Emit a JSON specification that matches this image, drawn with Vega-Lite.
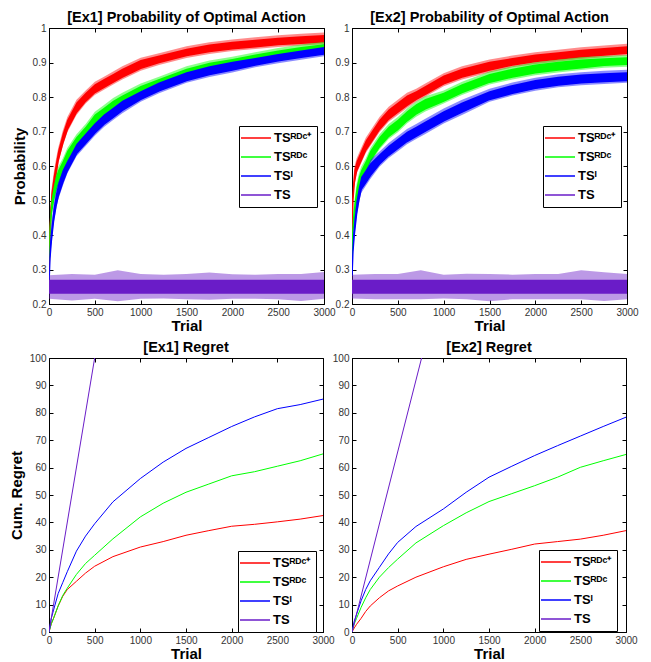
{
"$schema": "https://vega.github.io/schema/vega-lite/v6.json",
"background": "white",
"padding": {"left": 8, "top": 9, "right": 0, "bottom": 0},
"datasets": {
"p1": [
{"t":0,"s":"RDC+","lo2":0.272,"lo":0.282,"hi":0.318,"hi2":0.328},
{"t":10,"s":"RDC+","lo2":0.392,"lo":0.402,"hi":0.438,"hi2":0.448},
{"t":25,"s":"RDC+","lo2":0.472,"lo":0.482,"hi":0.518,"hi2":0.528},
{"t":50,"s":"RDC+","lo2":0.522,"lo":0.532,"hi":0.568,"hi2":0.578},
{"t":75,"s":"RDC+","lo2":0.562,"lo":0.572,"hi":0.608,"hi2":0.618},
{"t":100,"s":"RDC+","lo2":0.608,"lo":0.616,"hi":0.644,"hi2":0.652},
{"t":150,"s":"RDC+","lo2":0.658,"lo":0.666,"hi":0.694,"hi2":0.702},
{"t":200,"s":"RDC+","lo2":0.698,"lo":0.706,"hi":0.734,"hi2":0.742},
{"t":300,"s":"RDC+","lo2":0.748,"lo":0.756,"hi":0.784,"hi2":0.792},
{"t":400,"s":"RDC+","lo2":0.781,"lo":0.788,"hi":0.812,"hi2":0.819},
{"t":500,"s":"RDC+","lo2":0.806,"lo":0.813,"hi":0.837,"hi2":0.844},
{"t":600,"s":"RDC+","lo2":0.821,"lo":0.828,"hi":0.852,"hi2":0.859},
{"t":700,"s":"RDC+","lo2":0.836,"lo":0.843,"hi":0.867,"hi2":0.874},
{"t":800,"s":"RDC+","lo2":0.851,"lo":0.858,"hi":0.882,"hi2":0.889},
{"t":1000,"s":"RDC+","lo2":0.876,"lo":0.883,"hi":0.907,"hi2":0.914},
{"t":1200,"s":"RDC+","lo2":0.893,"lo":0.900,"hi":0.920,"hi2":0.927},
{"t":1500,"s":"RDC+","lo2":0.913,"lo":0.920,"hi":0.940,"hi2":0.947},
{"t":1750,"s":"RDC+","lo2":0.925,"lo":0.932,"hi":0.952,"hi2":0.959},
{"t":2000,"s":"RDC+","lo2":0.933,"lo":0.940,"hi":0.960,"hi2":0.967},
{"t":2250,"s":"RDC+","lo2":0.939,"lo":0.946,"hi":0.966,"hi2":0.973},
{"t":2500,"s":"RDC+","lo2":0.945,"lo":0.952,"hi":0.972,"hi2":0.979},
{"t":2750,"s":"RDC+","lo2":0.949,"lo":0.956,"hi":0.976,"hi2":0.983},
{"t":3000,"s":"RDC+","lo2":0.953,"lo":0.960,"hi":0.980,"hi2":0.987},
{"t":0,"s":"RDC","lo2":0.302,"lo":0.312,"hi":0.348,"hi2":0.358},
{"t":10,"s":"RDC","lo2":0.392,"lo":0.402,"hi":0.438,"hi2":0.448},
{"t":25,"s":"RDC","lo2":0.452,"lo":0.462,"hi":0.498,"hi2":0.508},
{"t":50,"s":"RDC","lo2":0.492,"lo":0.502,"hi":0.538,"hi2":0.548},
{"t":75,"s":"RDC","lo2":0.522,"lo":0.532,"hi":0.568,"hi2":0.578},
{"t":100,"s":"RDC","lo2":0.542,"lo":0.552,"hi":0.588,"hi2":0.598},
{"t":150,"s":"RDC","lo2":0.578,"lo":0.586,"hi":0.614,"hi2":0.622},
{"t":200,"s":"RDC","lo2":0.608,"lo":0.616,"hi":0.644,"hi2":0.652},
{"t":300,"s":"RDC","lo2":0.648,"lo":0.656,"hi":0.684,"hi2":0.692},
{"t":400,"s":"RDC","lo2":0.678,"lo":0.686,"hi":0.714,"hi2":0.722},
{"t":500,"s":"RDC","lo2":0.713,"lo":0.721,"hi":0.749,"hi2":0.757},
{"t":600,"s":"RDC","lo2":0.733,"lo":0.741,"hi":0.769,"hi2":0.777},
{"t":700,"s":"RDC","lo2":0.753,"lo":0.761,"hi":0.789,"hi2":0.797},
{"t":800,"s":"RDC","lo2":0.768,"lo":0.776,"hi":0.804,"hi2":0.812},
{"t":1000,"s":"RDC","lo2":0.801,"lo":0.808,"hi":0.832,"hi2":0.839},
{"t":1200,"s":"RDC","lo2":0.821,"lo":0.828,"hi":0.852,"hi2":0.859},
{"t":1500,"s":"RDC","lo2":0.851,"lo":0.858,"hi":0.882,"hi2":0.889},
{"t":1750,"s":"RDC","lo2":0.868,"lo":0.875,"hi":0.899,"hi2":0.906},
{"t":2000,"s":"RDC","lo2":0.883,"lo":0.890,"hi":0.910,"hi2":0.917},
{"t":2250,"s":"RDC","lo2":0.896,"lo":0.903,"hi":0.923,"hi2":0.930},
{"t":2500,"s":"RDC","lo2":0.908,"lo":0.915,"hi":0.935,"hi2":0.942},
{"t":2750,"s":"RDC","lo2":0.918,"lo":0.925,"hi":0.945,"hi2":0.952},
{"t":3000,"s":"RDC","lo2":0.926,"lo":0.933,"hi":0.953,"hi2":0.960},
{"t":0,"s":"I","lo2":0.252,"lo":0.262,"hi":0.298,"hi2":0.308},
{"t":10,"s":"I","lo2":0.322,"lo":0.332,"hi":0.368,"hi2":0.378},
{"t":25,"s":"I","lo2":0.372,"lo":0.382,"hi":0.418,"hi2":0.428},
{"t":50,"s":"I","lo2":0.432,"lo":0.442,"hi":0.478,"hi2":0.488},
{"t":75,"s":"I","lo2":0.472,"lo":0.482,"hi":0.518,"hi2":0.528},
{"t":100,"s":"I","lo2":0.502,"lo":0.512,"hi":0.548,"hi2":0.558},
{"t":150,"s":"I","lo2":0.542,"lo":0.552,"hi":0.588,"hi2":0.598},
{"t":200,"s":"I","lo2":0.578,"lo":0.586,"hi":0.614,"hi2":0.622},
{"t":300,"s":"I","lo2":0.628,"lo":0.636,"hi":0.664,"hi2":0.672},
{"t":400,"s":"I","lo2":0.658,"lo":0.666,"hi":0.694,"hi2":0.702},
{"t":500,"s":"I","lo2":0.688,"lo":0.696,"hi":0.724,"hi2":0.732},
{"t":600,"s":"I","lo2":0.713,"lo":0.721,"hi":0.749,"hi2":0.757},
{"t":700,"s":"I","lo2":0.733,"lo":0.741,"hi":0.769,"hi2":0.777},
{"t":800,"s":"I","lo2":0.753,"lo":0.761,"hi":0.789,"hi2":0.797},
{"t":1000,"s":"I","lo2":0.786,"lo":0.793,"hi":0.817,"hi2":0.824},
{"t":1200,"s":"I","lo2":0.811,"lo":0.818,"hi":0.842,"hi2":0.849},
{"t":1500,"s":"I","lo2":0.841,"lo":0.848,"hi":0.872,"hi2":0.879},
{"t":1750,"s":"I","lo2":0.858,"lo":0.865,"hi":0.889,"hi2":0.896},
{"t":2000,"s":"I","lo2":0.871,"lo":0.878,"hi":0.902,"hi2":0.909},
{"t":2250,"s":"I","lo2":0.886,"lo":0.893,"hi":0.913,"hi2":0.920},
{"t":2500,"s":"I","lo2":0.898,"lo":0.905,"hi":0.925,"hi2":0.932},
{"t":2750,"s":"I","lo2":0.908,"lo":0.915,"hi":0.935,"hi2":0.942},
{"t":3000,"s":"I","lo2":0.918,"lo":0.925,"hi":0.945,"hi2":0.952},
{"t":0,"s":"TS","lo2":0.215,"lo":0.232,"hi":0.27,"hi2":0.283},
{"t":250,"s":"TS","lo2":0.21,"lo":0.232,"hi":0.27,"hi2":0.287},
{"t":500,"s":"TS","lo2":0.215,"lo":0.232,"hi":0.27,"hi2":0.285},
{"t":750,"s":"TS","lo2":0.208,"lo":0.232,"hi":0.27,"hi2":0.298},
{"t":1000,"s":"TS","lo2":0.215,"lo":0.232,"hi":0.27,"hi2":0.287},
{"t":1250,"s":"TS","lo2":0.216,"lo":0.232,"hi":0.27,"hi2":0.285},
{"t":1500,"s":"TS","lo2":0.214,"lo":0.232,"hi":0.27,"hi2":0.287},
{"t":1750,"s":"TS","lo2":0.212,"lo":0.232,"hi":0.27,"hi2":0.291},
{"t":2000,"s":"TS","lo2":0.215,"lo":0.232,"hi":0.27,"hi2":0.286},
{"t":2250,"s":"TS","lo2":0.215,"lo":0.232,"hi":0.27,"hi2":0.285},
{"t":2500,"s":"TS","lo2":0.214,"lo":0.232,"hi":0.27,"hi2":0.287},
{"t":2750,"s":"TS","lo2":0.209,"lo":0.232,"hi":0.27,"hi2":0.287},
{"t":3000,"s":"TS","lo2":0.215,"lo":0.232,"hi":0.27,"hi2":0.293}
],
"p2": [
{"t":0,"s":"RDC+","lo2":0.392,"lo":0.402,"hi":0.438,"hi2":0.448},
{"t":10,"s":"RDC+","lo2":0.492,"lo":0.502,"hi":0.538,"hi2":0.548},
{"t":25,"s":"RDC+","lo2":0.542,"lo":0.552,"hi":0.588,"hi2":0.598},
{"t":50,"s":"RDC+","lo2":0.578,"lo":0.586,"hi":0.614,"hi2":0.622},
{"t":75,"s":"RDC+","lo2":0.593,"lo":0.601,"hi":0.629,"hi2":0.637},
{"t":100,"s":"RDC+","lo2":0.608,"lo":0.616,"hi":0.644,"hi2":0.652},
{"t":150,"s":"RDC+","lo2":0.638,"lo":0.646,"hi":0.674,"hi2":0.682},
{"t":200,"s":"RDC+","lo2":0.658,"lo":0.666,"hi":0.694,"hi2":0.702},
{"t":300,"s":"RDC+","lo2":0.698,"lo":0.706,"hi":0.734,"hi2":0.742},
{"t":400,"s":"RDC+","lo2":0.728,"lo":0.736,"hi":0.764,"hi2":0.772},
{"t":500,"s":"RDC+","lo2":0.748,"lo":0.756,"hi":0.784,"hi2":0.792},
{"t":600,"s":"RDC+","lo2":0.768,"lo":0.776,"hi":0.804,"hi2":0.812},
{"t":700,"s":"RDC+","lo2":0.786,"lo":0.793,"hi":0.817,"hi2":0.824},
{"t":800,"s":"RDC+","lo2":0.801,"lo":0.808,"hi":0.832,"hi2":0.839},
{"t":1000,"s":"RDC+","lo2":0.831,"lo":0.838,"hi":0.862,"hi2":0.869},
{"t":1200,"s":"RDC+","lo2":0.851,"lo":0.858,"hi":0.882,"hi2":0.889},
{"t":1500,"s":"RDC+","lo2":0.871,"lo":0.878,"hi":0.902,"hi2":0.909},
{"t":1750,"s":"RDC+","lo2":0.886,"lo":0.893,"hi":0.913,"hi2":0.920},
{"t":2000,"s":"RDC+","lo2":0.896,"lo":0.903,"hi":0.923,"hi2":0.930},
{"t":2250,"s":"RDC+","lo2":0.903,"lo":0.910,"hi":0.930,"hi2":0.937},
{"t":2500,"s":"RDC+","lo2":0.910,"lo":0.917,"hi":0.937,"hi2":0.944},
{"t":2750,"s":"RDC+","lo2":0.915,"lo":0.922,"hi":0.942,"hi2":0.949},
{"t":3000,"s":"RDC+","lo2":0.920,"lo":0.927,"hi":0.947,"hi2":0.954},
{"t":0,"s":"RDC","lo2":0.322,"lo":0.332,"hi":0.368,"hi2":0.378},
{"t":10,"s":"RDC","lo2":0.402,"lo":0.412,"hi":0.448,"hi2":0.458},
{"t":25,"s":"RDC","lo2":0.442,"lo":0.452,"hi":0.488,"hi2":0.498},
{"t":50,"s":"RDC","lo2":0.492,"lo":0.502,"hi":0.538,"hi2":0.548},
{"t":75,"s":"RDC","lo2":0.522,"lo":0.532,"hi":0.568,"hi2":0.578},
{"t":100,"s":"RDC","lo2":0.542,"lo":0.552,"hi":0.588,"hi2":0.598},
{"t":150,"s":"RDC","lo2":0.578,"lo":0.586,"hi":0.614,"hi2":0.622},
{"t":200,"s":"RDC","lo2":0.608,"lo":0.616,"hi":0.644,"hi2":0.652},
{"t":300,"s":"RDC","lo2":0.648,"lo":0.656,"hi":0.684,"hi2":0.692},
{"t":400,"s":"RDC","lo2":0.678,"lo":0.686,"hi":0.714,"hi2":0.722},
{"t":500,"s":"RDC","lo2":0.698,"lo":0.706,"hi":0.734,"hi2":0.742},
{"t":600,"s":"RDC","lo2":0.723,"lo":0.731,"hi":0.759,"hi2":0.767},
{"t":700,"s":"RDC","lo2":0.743,"lo":0.751,"hi":0.779,"hi2":0.787},
{"t":800,"s":"RDC","lo2":0.758,"lo":0.766,"hi":0.794,"hi2":0.802},
{"t":1000,"s":"RDC","lo2":0.781,"lo":0.788,"hi":0.812,"hi2":0.819},
{"t":1200,"s":"RDC","lo2":0.806,"lo":0.813,"hi":0.837,"hi2":0.844},
{"t":1500,"s":"RDC","lo2":0.836,"lo":0.843,"hi":0.867,"hi2":0.874},
{"t":1750,"s":"RDC","lo2":0.851,"lo":0.858,"hi":0.882,"hi2":0.889},
{"t":2000,"s":"RDC","lo2":0.863,"lo":0.870,"hi":0.894,"hi2":0.901},
{"t":2250,"s":"RDC","lo2":0.871,"lo":0.878,"hi":0.902,"hi2":0.909},
{"t":2500,"s":"RDC","lo2":0.878,"lo":0.885,"hi":0.909,"hi2":0.916},
{"t":2750,"s":"RDC","lo2":0.885,"lo":0.892,"hi":0.912,"hi2":0.919},
{"t":3000,"s":"RDC","lo2":0.888,"lo":0.895,"hi":0.915,"hi2":0.922},
{"t":0,"s":"I","lo2":0.272,"lo":0.282,"hi":0.318,"hi2":0.328},
{"t":10,"s":"I","lo2":0.342,"lo":0.352,"hi":0.388,"hi2":0.398},
{"t":25,"s":"I","lo2":0.392,"lo":0.402,"hi":0.438,"hi2":0.448},
{"t":50,"s":"I","lo2":0.452,"lo":0.462,"hi":0.498,"hi2":0.508},
{"t":75,"s":"I","lo2":0.492,"lo":0.502,"hi":0.538,"hi2":0.548},
{"t":100,"s":"I","lo2":0.522,"lo":0.532,"hi":0.568,"hi2":0.578},
{"t":150,"s":"I","lo2":0.542,"lo":0.552,"hi":0.588,"hi2":0.598},
{"t":200,"s":"I","lo2":0.562,"lo":0.572,"hi":0.608,"hi2":0.618},
{"t":300,"s":"I","lo2":0.598,"lo":0.606,"hi":0.634,"hi2":0.642},
{"t":400,"s":"I","lo2":0.623,"lo":0.631,"hi":0.659,"hi2":0.667},
{"t":500,"s":"I","lo2":0.643,"lo":0.651,"hi":0.679,"hi2":0.687},
{"t":600,"s":"I","lo2":0.663,"lo":0.671,"hi":0.699,"hi2":0.707},
{"t":700,"s":"I","lo2":0.678,"lo":0.686,"hi":0.714,"hi2":0.722},
{"t":800,"s":"I","lo2":0.693,"lo":0.701,"hi":0.729,"hi2":0.737},
{"t":1000,"s":"I","lo2":0.723,"lo":0.731,"hi":0.759,"hi2":0.767},
{"t":1200,"s":"I","lo2":0.748,"lo":0.756,"hi":0.784,"hi2":0.792},
{"t":1500,"s":"I","lo2":0.786,"lo":0.793,"hi":0.817,"hi2":0.824},
{"t":1750,"s":"I","lo2":0.804,"lo":0.811,"hi":0.835,"hi2":0.842},
{"t":2000,"s":"I","lo2":0.818,"lo":0.825,"hi":0.849,"hi2":0.856},
{"t":2250,"s":"I","lo2":0.828,"lo":0.835,"hi":0.859,"hi2":0.866},
{"t":2500,"s":"I","lo2":0.834,"lo":0.841,"hi":0.865,"hi2":0.872},
{"t":2750,"s":"I","lo2":0.838,"lo":0.845,"hi":0.869,"hi2":0.876},
{"t":3000,"s":"I","lo2":0.841,"lo":0.848,"hi":0.872,"hi2":0.879},
{"t":0,"s":"TS","lo2":0.216,"lo":0.232,"hi":0.27,"hi2":0.285},
{"t":250,"s":"TS","lo2":0.214,"lo":0.232,"hi":0.27,"hi2":0.287},
{"t":500,"s":"TS","lo2":0.214,"lo":0.232,"hi":0.27,"hi2":0.287},
{"t":750,"s":"TS","lo2":0.214,"lo":0.232,"hi":0.27,"hi2":0.298},
{"t":1000,"s":"TS","lo2":0.216,"lo":0.232,"hi":0.27,"hi2":0.285},
{"t":1250,"s":"TS","lo2":0.214,"lo":0.232,"hi":0.27,"hi2":0.288},
{"t":1500,"s":"TS","lo2":0.208,"lo":0.232,"hi":0.27,"hi2":0.287},
{"t":1750,"s":"TS","lo2":0.214,"lo":0.232,"hi":0.27,"hi2":0.285},
{"t":2000,"s":"TS","lo2":0.214,"lo":0.232,"hi":0.27,"hi2":0.287},
{"t":2250,"s":"TS","lo2":0.214,"lo":0.232,"hi":0.27,"hi2":0.287},
{"t":2500,"s":"TS","lo2":0.214,"lo":0.232,"hi":0.27,"hi2":0.298},
{"t":2750,"s":"TS","lo2":0.209,"lo":0.232,"hi":0.27,"hi2":0.292},
{"t":3000,"s":"TS","lo2":0.214,"lo":0.232,"hi":0.27,"hi2":0.287}
],
"r1": [
{"t":0,"s":"RDC+","v":0},{"t":25,"s":"RDC+","v":3},{"t":50,"s":"RDC+","v":5},{"t":100,"s":"RDC+","v":9.5},{"t":150,"s":"RDC+","v":13},{"t":200,"s":"RDC+","v":15.5},{"t":300,"s":"RDC+","v":18.5},{"t":400,"s":"RDC+","v":21.5},{"t":500,"s":"RDC+","v":24},{"t":700,"s":"RDC+","v":27.5},{"t":1000,"s":"RDC+","v":31},{"t":1250,"s":"RDC+","v":33},{"t":1500,"s":"RDC+","v":35.3},{"t":1750,"s":"RDC+","v":37},{"t":2000,"s":"RDC+","v":38.6},{"t":2250,"s":"RDC+","v":39.3},{"t":2500,"s":"RDC+","v":40.2},{"t":2750,"s":"RDC+","v":41.2},{"t":3000,"s":"RDC+","v":42.5},
{"t":0,"s":"RDC","v":0},{"t":25,"s":"RDC","v":3},{"t":50,"s":"RDC","v":5},{"t":100,"s":"RDC","v":9.5},{"t":150,"s":"RDC","v":13.3},{"t":200,"s":"RDC","v":16},{"t":300,"s":"RDC","v":21},{"t":400,"s":"RDC","v":25},{"t":500,"s":"RDC","v":28},{"t":700,"s":"RDC","v":34},{"t":1000,"s":"RDC","v":42},{"t":1250,"s":"RDC","v":47},{"t":1500,"s":"RDC","v":51},{"t":1750,"s":"RDC","v":54},{"t":2000,"s":"RDC","v":57},{"t":2250,"s":"RDC","v":58.5},{"t":2500,"s":"RDC","v":60.5},{"t":2750,"s":"RDC","v":62.5},{"t":3000,"s":"RDC","v":65},
{"t":0,"s":"I","v":0},{"t":25,"s":"I","v":5},{"t":50,"s":"I","v":8},{"t":100,"s":"I","v":14},{"t":150,"s":"I","v":18},{"t":200,"s":"I","v":22},{"t":300,"s":"I","v":29.5},{"t":400,"s":"I","v":35},{"t":500,"s":"I","v":39.5},{"t":700,"s":"I","v":47.5},{"t":1000,"s":"I","v":56},{"t":1250,"s":"I","v":62},{"t":1500,"s":"I","v":67},{"t":1750,"s":"I","v":71},{"t":2000,"s":"I","v":75},{"t":2250,"s":"I","v":78.5},{"t":2500,"s":"I","v":81.5},{"t":2750,"s":"I","v":83},{"t":3000,"s":"I","v":85},
{"t":0,"s":"TS","v":0},{"t":250,"s":"TS","v":50},{"t":500,"s":"TS","v":100}
],
"r2": [
{"t":0,"s":"RDC+","v":0},{"t":25,"s":"RDC+","v":1.5},{"t":50,"s":"RDC+","v":2.8},{"t":100,"s":"RDC+","v":5},{"t":150,"s":"RDC+","v":7.5},{"t":200,"s":"RDC+","v":9.5},{"t":300,"s":"RDC+","v":12.5},{"t":400,"s":"RDC+","v":15},{"t":500,"s":"RDC+","v":16.8},{"t":700,"s":"RDC+","v":20},{"t":1000,"s":"RDC+","v":23.8},{"t":1250,"s":"RDC+","v":26.5},{"t":1500,"s":"RDC+","v":28.4},{"t":1750,"s":"RDC+","v":30.2},{"t":2000,"s":"RDC+","v":32.1},{"t":2250,"s":"RDC+","v":33},{"t":2500,"s":"RDC+","v":33.9},{"t":2750,"s":"RDC+","v":35.3},{"t":3000,"s":"RDC+","v":37},
{"t":0,"s":"RDC","v":0},{"t":25,"s":"RDC","v":3},{"t":50,"s":"RDC","v":5},{"t":100,"s":"RDC","v":9},{"t":150,"s":"RDC","v":12.5},{"t":200,"s":"RDC","v":15.5},{"t":300,"s":"RDC","v":20},{"t":400,"s":"RDC","v":23.5},{"t":500,"s":"RDC","v":26.6},{"t":700,"s":"RDC","v":32.5},{"t":1000,"s":"RDC","v":38.8},{"t":1250,"s":"RDC","v":43.5},{"t":1500,"s":"RDC","v":47.6},{"t":1750,"s":"RDC","v":50.5},{"t":2000,"s":"RDC","v":53.4},{"t":2250,"s":"RDC","v":56.5},{"t":2500,"s":"RDC","v":60.1},{"t":2750,"s":"RDC","v":62.5},{"t":3000,"s":"RDC","v":64.8},
{"t":0,"s":"I","v":0},{"t":25,"s":"I","v":4},{"t":50,"s":"I","v":6.5},{"t":100,"s":"I","v":11.4},{"t":150,"s":"I","v":15.5},{"t":200,"s":"I","v":18.7},{"t":300,"s":"I","v":23.6},{"t":400,"s":"I","v":28.5},{"t":500,"s":"I","v":32.7},{"t":700,"s":"I","v":38.5},{"t":1000,"s":"I","v":44.9},{"t":1250,"s":"I","v":51},{"t":1500,"s":"I","v":56.5},{"t":1750,"s":"I","v":60.5},{"t":2000,"s":"I","v":64.4},{"t":2250,"s":"I","v":68},{"t":2500,"s":"I","v":71.5},{"t":2750,"s":"I","v":75},{"t":3000,"s":"I","v":78.4},
{"t":0,"s":"TS","v":0},{"t":380,"s":"TS","v":50},{"t":762,"s":"TS","v":100}
]
},
"columns": 2,
"spacing": {"row": 54, "column": 28},
"bounds": "flush",
"resolve": {"legend": {"color": "independent"}},
"concat": [
 {"width": 275, "height": 276, "title": "[Ex1] Probability of Optimal Action", "data": {"name": "p1"},
  "resolve": {"axis": {"x": "independent", "y": "independent"}},
  "layer": [
   {"mark": {"type": "line", "strokeWidth": 1.5, "clip": true},
    "encoding": {
     "x": {"field": "t", "type": "quantitative", "scale": {"domain": [0, 3000], "nice": false}, "axis": {"values": [0,500,1000,1500,2000,2500,3000], "format": "d", "title": "Trial"}},
     "y": {"field": "lo", "type": "quantitative", "scale": {"domain": [0.2, 1], "nice": false, "zero": false}, "axis": {"values": [0.2,0.3,0.4,0.5,0.6,0.7,0.8,0.9,1], "format": "~g", "title": "Probability"}},
     "color": {"field": "s", "type": "nominal", "scale": {"domain": ["RDC+","RDC","I","TS"], "range": ["#ff0000","#00ff00","#0000ff","#6a1cc8"]}, "legend": {"legendX": 190, "legendY": 98, "labelExpr": "datum.label == 'RDC+' ? 'TSᴿᴰᶜ⁺\u2003\u2002' : datum.label == 'RDC' ? 'TSᴿᴰᶜ' : datum.label == 'I' ? 'TSᴵ' : 'TS'"}}}},
   {"mark": {"type": "area", "opacity": 0.45, "clip": true},
    "encoding": {
     "x": {"field": "t", "type": "quantitative", "axis": {"orient": "top", "labels": false, "title": null, "domain": false, "values": [0,500,1000,1500,2000,2500,3000]}},
     "y": {"field": "lo2", "type": "quantitative", "axis": {"orient": "right", "labels": false, "title": null, "domain": false, "values": [0.2,0.3,0.4,0.5,0.6,0.7,0.8,0.9,1]}},
     "y2": {"field": "hi2"},
     "fill": {"field": "s", "type": "nominal", "scale": {"domain": ["RDC+","RDC","I","TS"], "range": ["#ff0000","#00ff00","#0000ff","#6a1cc8"]}, "legend": null}}},
   {"mark": {"type": "area", "clip": true},
    "encoding": {
     "x": {"field": "t", "type": "quantitative", "axis": null},
     "y": {"field": "lo", "type": "quantitative", "axis": null},
     "y2": {"field": "hi"},
     "fill": {"field": "s", "type": "nominal", "scale": {"domain": ["RDC+","RDC","I","TS"], "range": ["#ff0000","#00ff00","#0000ff","#6a1cc8"]}, "legend": null}}}
  ]},
 {"width": 275, "height": 276, "title": "[Ex2] Probability of Optimal Action", "data": {"name": "p2"},
  "resolve": {"axis": {"x": "independent", "y": "independent"}},
  "layer": [
   {"mark": {"type": "line", "strokeWidth": 1.5, "clip": true},
    "encoding": {
     "x": {"field": "t", "type": "quantitative", "scale": {"domain": [0, 3000], "nice": false}, "axis": {"values": [0,500,1000,1500,2000,2500,3000], "format": "d", "title": "Trial"}},
     "y": {"field": "lo", "type": "quantitative", "scale": {"domain": [0.2, 1], "nice": false, "zero": false}, "axis": {"values": [0.2,0.3,0.4,0.5,0.6,0.7,0.8,0.9,1], "format": "~g", "title": null}},
     "color": {"field": "s", "type": "nominal", "scale": {"domain": ["RDC+","RDC","I","TS"], "range": ["#ff0000","#00ff00","#0000ff","#6a1cc8"]}, "legend": {"legendX": 191, "legendY": 98, "labelExpr": "datum.label == 'RDC+' ? 'TSᴿᴰᶜ⁺\u2003\u2002' : datum.label == 'RDC' ? 'TSᴿᴰᶜ' : datum.label == 'I' ? 'TSᴵ' : 'TS'"}}}},
   {"mark": {"type": "area", "opacity": 0.45, "clip": true},
    "encoding": {
     "x": {"field": "t", "type": "quantitative", "axis": {"orient": "top", "labels": false, "title": null, "domain": false, "values": [0,500,1000,1500,2000,2500,3000]}},
     "y": {"field": "lo2", "type": "quantitative", "axis": {"orient": "right", "labels": false, "title": null, "domain": false, "values": [0.2,0.3,0.4,0.5,0.6,0.7,0.8,0.9,1]}},
     "y2": {"field": "hi2"},
     "fill": {"field": "s", "type": "nominal", "scale": {"domain": ["RDC+","RDC","I","TS"], "range": ["#ff0000","#00ff00","#0000ff","#6a1cc8"]}, "legend": null}}},
   {"mark": {"type": "area", "clip": true},
    "encoding": {
     "x": {"field": "t", "type": "quantitative", "axis": null},
     "y": {"field": "lo", "type": "quantitative", "axis": null},
     "y2": {"field": "hi"},
     "fill": {"field": "s", "type": "nominal", "scale": {"domain": ["RDC+","RDC","I","TS"], "range": ["#ff0000","#00ff00","#0000ff","#6a1cc8"]}, "legend": null}}}
  ]},
 {"width": 274, "height": 274, "title": "[Ex1] Regret", "data": {"name": "r1"},
  "resolve": {"axis": {"x": "independent", "y": "independent"}},
  "layer": [
   {"mark": {"type": "line", "strokeWidth": 1, "clip": true},
    "encoding": {
     "x": {"field": "t", "type": "quantitative", "scale": {"domain": [0, 3000], "nice": false}, "axis": {"values": [0,500,1000,1500,2000,2500,3000], "format": "d", "title": "Trial"}},
     "y": {"field": "v", "type": "quantitative", "scale": {"domain": [0, 100], "nice": false}, "axis": {"values": [0,10,20,30,40,50,60,70,80,90,100], "title": "Cum. Regret"}},
     "color": {"field": "s", "type": "nominal", "scale": {"domain": ["RDC+","RDC","I","TS"], "range": ["#ff0000","#00ff00","#0000ff","#6a1cc8"]}, "legend": {"legendX": 189, "legendY": 193, "labelExpr": "datum.label == 'RDC+' ? 'TSᴿᴰᶜ⁺\u2003\u2002' : datum.label == 'RDC' ? 'TSᴿᴰᶜ' : datum.label == 'I' ? 'TSᴵ' : 'TS'"}}}},
   {"mark": {"type": "point", "opacity": 0},
    "encoding": {
     "x": {"field": "t", "type": "quantitative", "axis": {"orient": "top", "labels": false, "title": null, "domain": false, "values": [0,500,1000,1500,2000,2500,3000]}},
     "y": {"field": "v", "type": "quantitative", "axis": {"orient": "right", "labels": false, "title": null, "domain": false, "values": [0,10,20,30,40,50,60,70,80,90,100]}}}}
  ]},
 {"width": 274, "height": 274, "title": "[Ex2] Regret", "data": {"name": "r2"},
  "resolve": {"axis": {"x": "independent", "y": "independent"}},
  "layer": [
   {"mark": {"type": "line", "strokeWidth": 1, "clip": true},
    "encoding": {
     "x": {"field": "t", "type": "quantitative", "scale": {"domain": [0, 3000], "nice": false}, "axis": {"values": [0,500,1000,1500,2000,2500,3000], "format": "d", "title": "Trial"}},
     "y": {"field": "v", "type": "quantitative", "scale": {"domain": [0, 100], "nice": false}, "axis": {"values": [0,10,20,30,40,50,60,70,80,90,100], "title": null}},
     "color": {"field": "s", "type": "nominal", "scale": {"domain": ["RDC+","RDC","I","TS"], "range": ["#ff0000","#00ff00","#0000ff","#6a1cc8"]}, "legend": {"legendX": 187, "legendY": 192, "labelExpr": "datum.label == 'RDC+' ? 'TSᴿᴰᶜ⁺\u2003\u2002' : datum.label == 'RDC' ? 'TSᴿᴰᶜ' : datum.label == 'I' ? 'TSᴵ' : 'TS'"}}}},
   {"mark": {"type": "point", "opacity": 0},
    "encoding": {
     "x": {"field": "t", "type": "quantitative", "axis": {"orient": "top", "labels": false, "title": null, "domain": false, "values": [0,500,1000,1500,2000,2500,3000]}},
     "y": {"field": "v", "type": "quantitative", "axis": {"orient": "right", "labels": false, "title": null, "domain": false, "values": [0,10,20,30,40,50,60,70,80,90,100]}}}}
  ]}
],
"config": {
 "font": "Liberation Sans",
 "view": {"stroke": "black", "strokeWidth": 1},
 "title": {"font": "Liberation Sans", "fontSize": 14.5, "fontWeight": "bold", "color": "black", "offset": -2},
 "axis": {"grid": false, "domainColor": "black", "tickColor": "black", "tickSize": -4, "labelPadding": 7, "labelFont": "Liberation Sans", "labelFontSize": 10, "labelColor": "#333333", "titleFont": "Liberation Sans", "titleFontSize": 15, "titleFontWeight": "bold", "titleColor": "black", "labelFlush": false, "labelOverlap": false},
 "axisX": {"titlePadding": 1},
 "axisY": {"titlePadding": 5},
 "legend": {"orient": "none", "title": null, "strokeColor": "black", "fillColor": "white", "padding": 5, "symbolType": "M-2.5,0H2.5", "symbolSize": 144, "symbolOffset": 5, "symbolStrokeWidth": 1.5, "labelFont": "Liberation Sans", "labelFontWeight": "bold", "labelFontSize": 13, "labelColor": "black", "labelOffset": 11, "rowPadding": 5}
}
}
